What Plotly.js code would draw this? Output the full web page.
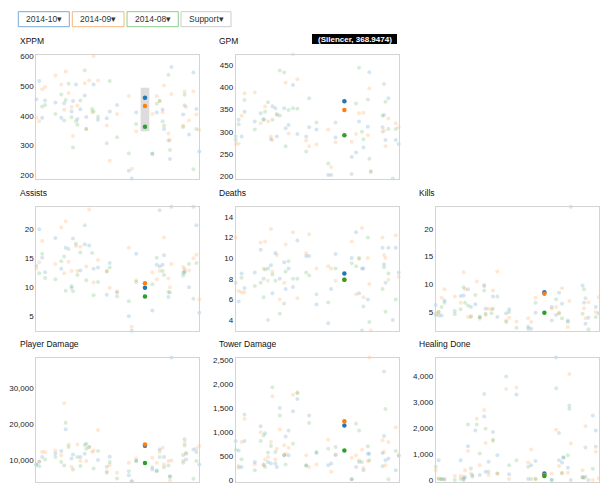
<!DOCTYPE html>
<html><head><meta charset="utf-8">
<script src="https://cdn.plot.ly/plotly-3.0.1.min.js"></script>
<style>html,body{margin:0;padding:0;background:#fff}#chart{width:600px;height:485px}</style>
</head><body><div id="chart"></div>
<script>
// ---- data ----
const heroIds = [1,3,5,7,14,18,20,21,23,25,26,28,29,31,34,35,37,39,40,43,49,51,56,64,66,69,75,80,83,85,87,88,91,92,93,101,102,103,105,108,110,112];
const highlightHero = 'Silencer';
const highlightId = 75;
const months = ['2014-10','2014-09','2014-08'];
const roleLabel = 'Support';

const xppm10 = [455,516,393,451,444,393,442,null,null,414,449,505,389,422,468,396,null,null,505,387,392,414,436,216,190,411,460,272,411,null,421,356,317,255,563,404,434,null,337,545,423,280];
const xppm09 = [393,382,489,496,535,505,420,548,476,429,332,null,434,null,509,356,518,412,600,518,367,249,406,466,223,347,433,406,466,449,412,501,341,319,473,367,481,429,384,482,404,352];
const xppm08 = [null,null,431,436,406,471,384,453,507,395,294,382,370,451,552,356,null,423,414,397,308,516,328,274,null,372,363,274,440,449,382,367,537,285,null,362,470,null,null,221,356,null];

const gpm10 = [281,327,289,345,323,342,328,null,null,283,358,353,289,337,353,308,315,null,406,295,289,310,305,202,202,287,368.9474,243,253,323,null,264,311,435,209,310,338,281,376,null,281,272];
const gpm09 = [272,273,336,387,389,319,null,357,324,289,281,null,338,null,null,411,296,null,475,419,280,267,271,305,220,276,349,277,295,342,null,343,292,398,211,300,302,267,330,null,319,310];
const gpm08 = [289,317,null,372,305,null,327,345,367,null,327,null,340,439,434,267,349,null,353,352,255,376,321,228,null,321,292,204,364,445,300,283,373,239,null,336,408,368,306,194,306,null];

const ast10 = [13.7,20,15.1,12.6,18.5,13.2,null,16.8,null,9.9,18.4,null,null,12.9,17.4,null,17.2,null,13.2,13.4,8.7,14.2,9.1,5,2.5,15.8,9.9,6,13.9,13.6,13.9,15.5,8.3,null,23.9,12.5,12.8,null,10,23.9,20.7,5.6];
const ast09 = [13.2,14.3,18,null,14,20.3,12.4,21.4,14.4,12.8,null,17.1,12.8,17,null,13.6,23.4,null,10.8,14.7,12.8,9.9,9.3,16.8,3.2,11.2,10.7,12.6,11.4,12.8,null,18.6,11.5,10,14,13.5,13.2,null,12.9,15,15.6,7.9];
const ast08 = [null,12.4,15.8,11.6,11.4,14.5,15.3,9.4,16.6,10.2,9.3,17.5,12.1,16,20.7,11.2,null,15.9,8.6,10.9,12.7,13.4,8.4,7.6,null,10.9,8.4,10.5,15.1,23.3,12.8,12.1,9.2,9.1,null,12,12.5,null,14,8,14.2,null];

const dth10 = [null,5.8,8.5,7.1,8.6,10.8,8,null,9,9.3,6.6,10.5,null,8,9.6,7,9,null,7.2,11.7,10.2,10.2,5.5,3.7,7,10.4,8.5,10,12.5,6.6,9,9,6,15,null,11,9.4,7.6,11,4,11,8.6];
const dth09 = [12,6.8,6.7,6.7,null,11.5,9,11.6,7.8,12.8,8.7,null,10.3,6,7.6,11.3,null,null,12.5,6.1,10.5,12.3,9,9.2,9,7.8,7.9,11.6,6.5,9.9,12.9,6.2,10,7.5,3,12,10.3,10,7.9,null,12.2,8.2];
const dth08 = [7.6,null,8.1,null,7.3,7.6,6.2,8.9,4,null,8.4,7.8,null,4.6,5.6,8.7,9.7,null,8,8,8.6,8.3,6.5,5.7,null,9,7.9,9.5,9.2,10,3,5.3,12,3.8,null,7,9.1,4.8,8.5,null,6,null];

const kil10 = [6.3,4.4,4.4,7.1,5.2,7.9,8,null,9.1,5.9,null,6.4,null,4.1,9.7,5.6,null,null,7.8,4.1,4.8,5.5,null,2,2,4.9,8.6,5.9,4.5,8.5,6.5,null,3.5,null,24,9.8,6.7,2.9,4,null,5.9,4.8];
const kil09 = [4.8,5,7.6,9.1,7.8,6.7,12.2,9.1,4.1,4.3,null,null,10.5,3.8,9.9,4.5,5.6,5.5,8.9,12.3,3.5,4,3.3,3.9,3.2,7.6,8.3,5.6,5.9,4.7,9.3,null,2.3,7,null,null,5.7,3.9,6.8,null,5,7.7];
const kil08 = [4.5,5,5.9,6.7,4.6,5.5,9.5,6.7,6.2,4.1,null,8.1,null,4.1,8.9,4.7,null,4.8,5.6,7.8,3.2,5,2.2,2.4,null,6.7,4.9,3.5,7.3,4.9,3.9,null,3.2,null,null,4.7,9.1,7.5,1.9,null,4.1,null];

const pdm10 = [8700,9440,10750,null,11780,12440,null,18540,null,10370,11500,null,null,10750,11690,14500,null,null,null,9900,8030,10840,null,5680,3990,9620,13940,7280,6990,12910,null,10750,null,5400,38700,11310,15730,10090,null,12910,12160,8680];
const pdm09 = [null,9500,12160,12160,12630,11300,25870,null,14310,8030,null,null,14310,9620,null,9620,13570,12160,12630,18360,6800,8500,6340,9150,3990,10370,14310,10560,9150,12160,13380,8680,9620,4180,9810,9810,14780,11970,null,null,13190,13850];
const pdm08 = [8600,8200,null,10090,10750,9340,8400,20420,13570,null,7280,null,10750,8220,14120,13100,13570,null,7560,12440,6340,9340,4740,6800,null,9620,9060,7930,6800,10750,null,7930,8400,5200,null,9150,14030,11690,null,4640,9620,null];

const twr10 = [815,620,275,815,380,1125,325,980,380,345,null,345,275,1505,520,910,520,null,1435,1690,310,1345,565,310,345,520,1140,20,275,380,null,205,550,550,null,565,920,415,450,null,205,520];
const twr09 = [null,300,795,1280,330,1000,310,430,485,795,1750,430,655,1055,725,550,675,null,1780,1830,520,275,325,840,175,540,1230,465,520,415,635,255,395,2556,null,830,585,310,795,null,1105,505];
const twr08 = [635,260,435,1370,205,815,930,275,575,710,1935,585,null,1345,520,325,1035,null,760,1810,300,1190,585,655,null,690,620,20,1175,1035,380,null,705,415,null,290,2265,1485,20,null,610,null];

const hl10 = [null,770,50,50,null,770,60,115,1305,null,200,1910,null,200,2445,330,710,null,1850,960,null,230,3280,50,580,735,265,20,4700,770,685,875,480,2735,10,115,null,140,null,2480,1910,null];
const hl09 = [390,75,null,20,165,165,140,390,1125,265,null,null,2355,580,2695,1430,200,null,1505,265,3495,50,3555,685,1175,50,200,265,1940,545,265,null,290,4065,1405,390,75,2065,null,10,1090,75];
const hl08 = [520,50,40,null,10,50,10,null,2140,455,140,null,2140,1025,3305,1975,330,null,1555,265,3975,580,770,520,50,50,165,10,3520,1810,290,875,960,2860,null,115,null,1255,10,445,1280,null];

// ---- layout / style ----
const W = 600, H = 485;
const colors = ['#1f77b4','#ff7f0e','#2ca02c'];
const buttonBorders = ['#7aaad6','#f7b57d','#8ccc8c','#cccccc'];
const colLeft = [36.3, 235.7, 435.7], panelW = 163;
const rowTop = [54.5, 206.7, 357.5], panelH = 124;
const xRange = [1, 112];
const FONT = 'Liberation Sans, Arial, Helvetica, sans-serif';

const panels = [
  {title:'XPPM', s:[xppm10,xppm09,xppm08], range:[190,605], dtick:100, col:0, row:0},
  {title:'GPM', s:[gpm10,gpm09,gpm08], range:[194,475], dtick:50, col:1, row:0},
  {title:'Assists', s:[ast10,ast09,ast08], range:[2.5,23.9], dtick:5, col:0, row:1},
  {title:'Deaths', s:[dth10,dth09,dth08], range:[2.97,14.97], dtick:2, col:1, row:1},
  {title:'Kills', s:[kil10,kil09,kil08], range:[1.65,24], dtick:5, col:2, row:1},
  {title:'Player Damage', s:[pdm10,pdm09,pdm08], range:[3900,38700], dtick:10000, col:0, row:2},
  {title:'Tower Damage', s:[twr10,twr09,twr08], range:[-28,2556], dtick:500, col:1, row:2},
  {title:'Healing Done', s:[hl10,hl09,hl08], range:[-45,4700], dtick:1000, col:2, row:2}
];

const hIdx = heroIds.indexOf(highlightId);
const traces = [];
const layout = {
  width: W, height: H, margin:{l:0,r:0,t:0,b:0}, showlegend:false,
  paper_bgcolor:'#fff', plot_bgcolor:'#fff', hovermode:false,
  font:{family:FONT, size:8, color:'#333'},
  shapes:[], annotations:[]
};

panels.forEach((p, i) => {
  const n = i === 0 ? '' : String(i + 1);
  const x0 = colLeft[p.col] / W, x1 = (colLeft[p.col] + panelW) / W;
  const yT = rowTop[p.row], yB = yT + panelH;
  layout['xaxis' + n] = {domain:[x0, Math.min(x1, 0.998)], range:xRange, anchor:'y' + n,
    showticklabels:false, showgrid:false, zeroline:false, showline:true, mirror:true,
    linecolor:'#d4d4d4', linewidth:1, ticks:'', fixedrange:true};
  layout['yaxis' + n] = {domain:[1 - yB / H, 1 - yT / H], range:p.range, anchor:'x' + n,
    tick0:0, dtick:p.dtick, tickformat:',', showgrid:false, zeroline:false,
    showline:true, mirror:true, linecolor:'#d4d4d4', linewidth:1, ticks:'',
    ticklabeloverflow:'allow', tickfont:{family:FONT, size:8, color:'#222'}, fixedrange:true};
  layout.annotations.push({xref:'paper', yref:'paper', x:(colLeft[p.col] - 18.5) / W, y:1 - (yT - 14) / H,
    xanchor:'left', yanchor:'middle', showarrow:false, text:p.title,
    font:{family:FONT, size:8.5, color:'#111'}});
  // faint points
  p.s.forEach((vals, m) => {
    const xs = [], ys = [];
    vals.forEach((v, k) => { if (k !== hIdx && v !== null) { xs.push(heroIds[k]); ys.push(v); } });
    traces.push({type:'scatter', mode:'markers', x:xs, y:ys, xaxis:'x' + n, yaxis:'y' + n,
      cliponaxis:false, hoverinfo:'skip',
      marker:{color:colors[m], size:4, opacity:0.19, line:{width:0}}});
  });
  // highlighted hero
  p.s.forEach((vals, m) => {
    traces.push({type:'scatter', mode:'markers', x:[heroIds[hIdx]], y:[vals[hIdx]],
      xaxis:'x' + n, yaxis:'y' + n, cliponaxis:false, hoverinfo:'skip',
      marker:{color:colors[m], size:4.5, opacity:1, line:{width:0}}});
  });
});

// highlight column in first panel
const hs = [xppm10[hIdx], xppm09[hIdx], xppm08[hIdx]];
layout.shapes.push({type:'rect', xref:'x', yref:'y', layer:'below',
  x0:highlightId - 2.95, x1:highlightId + 2.95,
  y0:Math.min(...hs) - 15, y1:Math.max(...hs) + 34,
  fillcolor:'#dcdcdc', line:{width:0}});

// buttons
const btnLabels = months.concat([roleLabel]).map(t => t + '\u25BE');
const btnLeft = [18.3, 72.3, 127, 181], btnW = [51, 51.7, 51.3, 50];
btnLabels.forEach((t, i) => {
  const l = btnLeft[i], r = l + btnW[i];
  layout.shapes.push({type:'rect', xref:'paper', yref:'paper', x0:l / W, x1:r / W,
    y0:1 - 26.7 / H, y1:1 - 11.7 / H, line:{color:buttonBorders[i], width:1}, fillcolor:'#fff'});
  layout.annotations.push({xref:'paper', yref:'paper', x:(l + r) / 2 / W, y:1 - 19.4 / H,
    xanchor:'center', yanchor:'middle', showarrow:false, text:t,
    font:{family:FONT, size:8.5, color:'#333'}});
});

// tooltip
layout.shapes.push({type:'rect', xref:'paper', yref:'paper', x0:312 / W, x1:397 / W,
  y0:1 - 44 / H, y1:1 - 34 / H, fillcolor:'#000', line:{width:0}});
layout.annotations.push({xref:'paper', yref:'paper', x:354.5 / W, y:1 - 39.2 / H,
  xanchor:'center', yanchor:'middle', showarrow:false,
  text:'(' + highlightHero + ', ' + gpm10[hIdx] + ')',
  font:{family:FONT, size:8, color:'#fff', weight:'bold'}});

Plotly.newPlot('chart', traces, layout, {displayModeBar:false, staticPlot:true});
</script>
</body></html>
